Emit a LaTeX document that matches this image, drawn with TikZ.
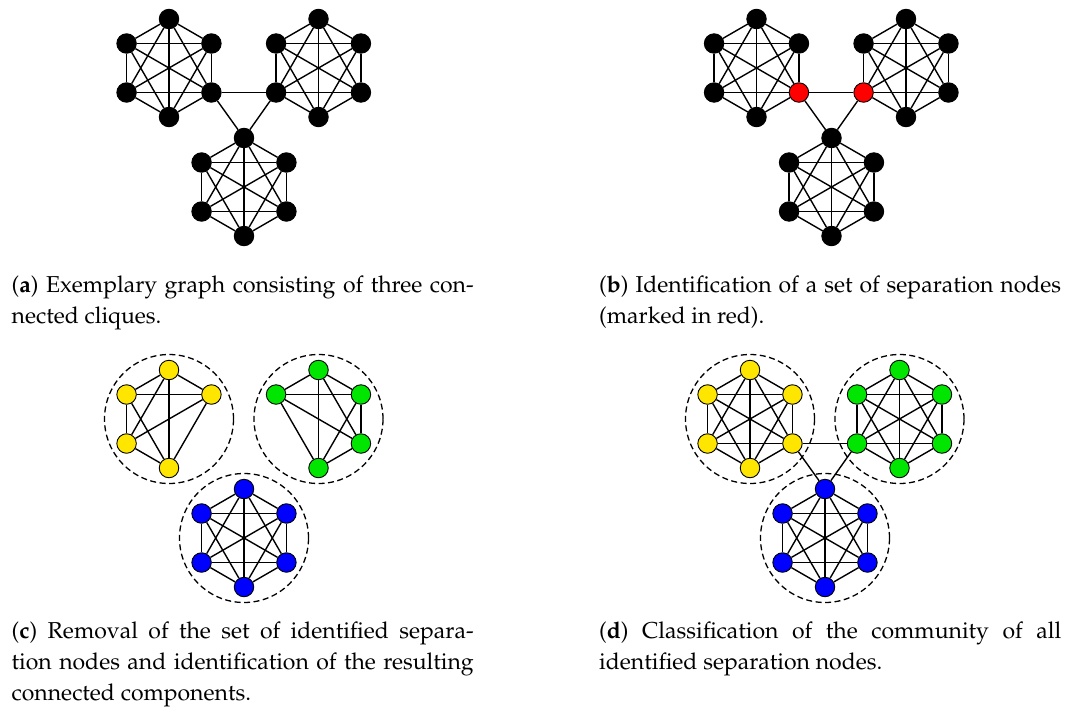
\documentclass[tikz,border=0pt]{standalone}
\usepackage[T1]{fontenc}
\usepackage{mathpazo}
\pgfdeclarelayer{bg}
\pgfsetlayers{bg,main}
\definecolor{nodeyellow}{RGB}{255,230,0}
\definecolor{nodegreen}{RGB}{0,230,0}
\definecolor{nodeblue}{RGB}{0,0,255}
\definecolor{nodered}{RGB}{255,0,0}
\tikzset{
  vtx/.style={circle, draw=black, line width=0.9pt, minimum size=19.5pt, inner sep=0pt},
  link/.style={line width=1.4pt, black},
  hull/.style={circle, draw=black, line width=1.3pt, dash pattern=on 6pt off 3.5pt,
               minimum size=129pt, inner sep=0pt},
  captext/.style={anchor=base west, inner sep=0pt, font=\fontsize{23}{31}\selectfont}
}
% full-width justified caption line
\newcommand\capline[1]{\makebox[462pt][s]{#1}}
% clique: #1 prefix, #2/#3 centre, #4 fill, #5 vertex indices, #6 index drawn in red (0 = none)
\newcommand\cliquegraph[6]{%
  \foreach \i in {#5}{%
    \pgfmathsetmacro\vtxang{90+60*(\i-1)}%
    \ifnum\i=#6\relax\def\vtxcol{nodered}\else\def\vtxcol{#4}\fi
    \node[vtx, fill=\vtxcol] (#1\i) at ({#2+49*cos(\vtxang)},{#3-49*sin(\vtxang)}) {};
  }%
  \begin{pgfonlayer}{bg}
    \foreach \i in {#5}{\foreach \j in {#5}{\ifnum\i<\j\relax\draw[link] (#1\i) -- (#1\j);\fi}}%
  \end{pgfonlayer}%
}
\begin{document}
\begin{tikzpicture}[x=1pt, y=-1pt]
\useasboundingbox (0,0) rectangle (1078,718);

% (a) three connected cliques
\cliquegraph{aA}{169}{68}{black}{1,2,3,4,5,6}{0}
\cliquegraph{aB}{318.5}{68}{black}{1,2,3,4,5,6}{0}
\cliquegraph{aC}{244}{187}{black}{1,2,3,4,5,6}{0}
\begin{pgfonlayer}{bg}
  \draw[link] (aA5) -- (aB3);
  \draw[link] (aA5) -- (aC1);
  \draw[link] (aB3) -- (aC1);
\end{pgfonlayer}

% (b) separation nodes in red
\cliquegraph{bA}{756.5}{68}{black}{1,2,3,4,5,6}{5}
\cliquegraph{bB}{906}{68}{black}{1,2,3,4,5,6}{3}
\cliquegraph{bC}{831.5}{187}{black}{1,2,3,4,5,6}{0}
\begin{pgfonlayer}{bg}
  \draw[link] (bA5) -- (bB3);
  \draw[link] (bA5) -- (bC1);
  \draw[link] (bB3) -- (bC1);
\end{pgfonlayer}

% (c) components after removal
\cliquegraph{cA}{169}{419}{nodeyellow}{1,2,3,4,6}{0}
\cliquegraph{cB}{318.5}{419}{nodegreen}{1,2,4,5,6}{0}
\cliquegraph{cC}{244}{538}{nodeblue}{1,2,3,4,5,6}{0}
\begin{pgfonlayer}{bg}
  \node[hull] (cHA) at (169,419) {};
  \node[hull] (cHB) at (318.5,419) {};
  \node[hull] (cHC) at (244,538) {};
\end{pgfonlayer}

% (d) classified communities
\cliquegraph{dA}{750}{419}{nodeyellow}{1,2,3,4,5,6}{0}
\cliquegraph{dB}{899.5}{419}{nodegreen}{1,2,3,4,5,6}{0}
\cliquegraph{dC}{825}{538}{nodeblue}{1,2,3,4,5,6}{0}
\begin{pgfonlayer}{bg}
  \node[hull] (dHA) at (750,419) {};
  \node[hull] (dHB) at (899.5,419) {};
  \node[hull] (dHC) at (825,538) {};
  \draw[link] (dA5) -- (dB3);
  \draw[link] (dA5) -- (dC1);
  \draw[link] (dB3) -- (dC1);
\end{pgfonlayer}

% captions
\node[captext] (capa1) at (11.5,292) {\capline{(\textbf{a}) Exemplary graph consisting of three con-}};
\node[captext] (capa2) at (11.5,323) {nected cliques.};
\node[captext] (capb1) at (599,292) {\capline{(\textbf{b}) Identification of a set of separation nodes}};
\node[captext] (capb2) at (599,323) {(marked in red).};
\node[captext] (capc1) at (11.5,638) {\capline{(\textbf{c}) Removal of the set of identified separa-}};
\node[captext] (capc2) at (11.5,669) {\capline{tion nodes and identification of the resulting}};
\node[captext] (capc3) at (11.5,700) {connected components.};
\node[captext] (capd1) at (599,638) {\capline{(\textbf{d}) Classification of the community of all}};
\node[captext] (capd2) at (599,669) {identified separation nodes.};
\end{tikzpicture}
\end{document}
